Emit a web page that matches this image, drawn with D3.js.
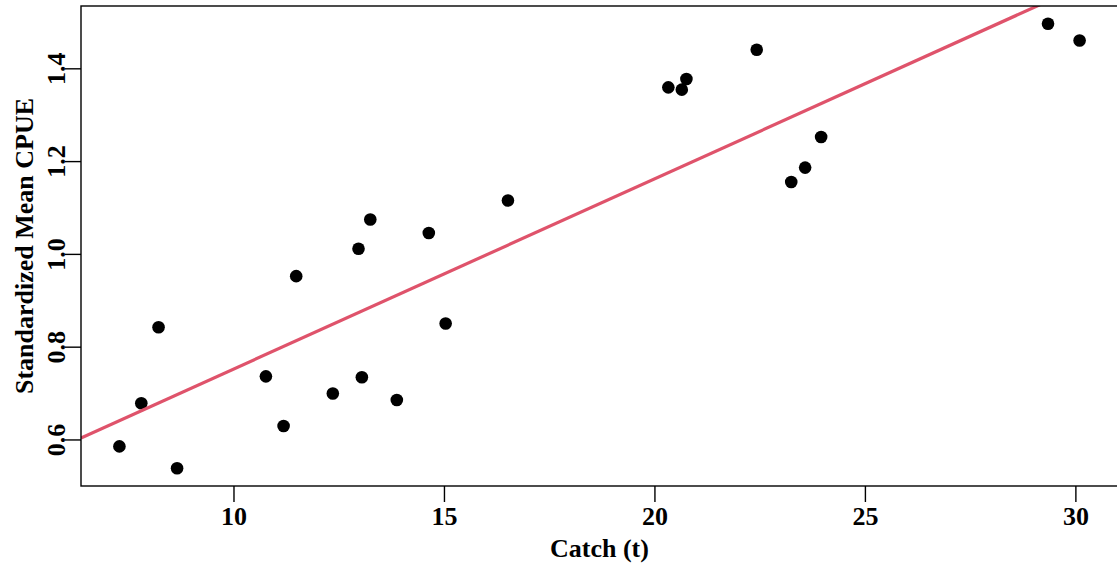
<!DOCTYPE html>
<html>
<head>
<meta charset="utf-8">
<script src="https://cdn.jsdelivr.net/npm/d3@7"></script>
<style>
  html, body { margin: 0; padding: 0; background: #fff; }
  svg { display: block; }
  text { font-family: "Liberation Serif", "Times New Roman", serif; font-weight: bold; fill: #000; }
</style>
</head>
<body>
<svg id="chart" width="1117" height="568"></svg>
<script>
// ---- data ----
const catchT = [7.29, 7.81, 8.22, 8.66, 10.77, 11.19, 11.49, 12.36, 12.97, 13.05, 13.25, 13.88,
                14.64, 15.04, 16.52, 20.33, 20.65, 20.76, 22.43, 23.25, 23.58, 23.96, 29.35, 30.10];
const cpue   = [0.585, 0.678, 0.842, 0.538, 0.736, 0.629, 0.952, 0.699, 1.011, 0.734, 1.074, 0.685,
                1.045, 0.850, 1.115, 1.359, 1.354, 1.377, 1.440, 1.155, 1.186, 1.252, 1.496, 1.460];
const xTicks = [10, 15, 20, 25, 30];
const yTicks = [0.6, 0.8, 1.0, 1.2, 1.4];
const xLabel = "Catch (t)";
const yLabel = "Standardized Mean CPUE";

// ---- layout ----
const W = 1117, H = 568;
const plot = { left: 81, right: 1118, top: 6, bottom: 486 };

const svg = d3.select("#chart");

function padded(ext) { const r = ext[1] - ext[0]; return [ext[0] - 0.04 * r, ext[1] + 0.04 * r]; }
const x = d3.scaleLinear().domain(padded(d3.extent(catchT))).range([plot.left, plot.right]);
const y = d3.scaleLinear().domain(padded(d3.extent(cpue))).range([plot.bottom, plot.top]);

// least-squares fit computed from the data
const mx = d3.mean(catchT), my = d3.mean(cpue);
let sxy = 0, sxx = 0;
catchT.forEach((v, i) => { sxy += (v - mx) * (cpue[i] - my); sxx += (v - mx) ** 2; });
const slope = sxy / sxx, intercept = my - slope * mx;

svg.append("defs").append("clipPath").attr("id", "clip")
  .append("rect").attr("x", plot.left).attr("y", plot.top)
  .attr("width", plot.right - plot.left).attr("height", plot.bottom - plot.top);

// points
svg.append("g").selectAll("circle").data(catchT).join("circle")
  .attr("cx", d => x(d)).attr("cy", (d, i) => y(cpue[i])).attr("r", 6.3).attr("fill", "#000");

// regression line
const xd = x.domain();
svg.append("line").attr("clip-path", "url(#clip)")
  .attr("x1", x(xd[0])).attr("y1", y(intercept + slope * xd[0]))
  .attr("x2", x(xd[1])).attr("y2", y(intercept + slope * xd[1]))
  .attr("stroke", "#DF536B").attr("stroke-width", 3.2);

// box
svg.append("rect").attr("x", plot.left).attr("y", plot.top)
  .attr("width", plot.right - plot.left).attr("height", plot.bottom - plot.top)
  .attr("fill", "none").attr("stroke", "#000").attr("stroke-width", 1.4);

// x axis
const xAxis = d3.axisBottom(x).tickValues(xTicks).tickSize(16).tickPadding(4).tickFormat(d3.format("d"));
const gx = svg.append("g").attr("transform", `translate(0,${plot.bottom})`).call(xAxis);
gx.select(".domain").remove();
gx.selectAll(".tick line").attr("stroke", "#000").attr("stroke-width", 1.4);
gx.selectAll(".tick text").attr("font-size", 26).attr("font-family", null).attr("dy", "0.72em");

// y axis
const yAxis = d3.axisLeft(y).tickValues(yTicks).tickSize(16).tickPadding(0).tickFormat(d3.format(".1f"));
const gy = svg.append("g").attr("transform", `translate(${plot.left},0)`).call(yAxis);
gy.select(".domain").remove();
gy.selectAll(".tick line").attr("stroke", "#000").attr("stroke-width", 1.4);
gy.selectAll(".tick text").attr("font-size", 26).attr("font-family", null)
  .attr("x", null).attr("dy", null)
  .attr("text-anchor", "middle")
  .attr("transform", "translate(-16,0) rotate(-90)");

// axis titles
svg.append("text").attr("x", (plot.left + plot.right) / 2).attr("y", 557)
  .attr("text-anchor", "middle").attr("font-size", 26).text(xLabel);
svg.append("text").attr("transform", `translate(33,${(plot.top + plot.bottom) / 2}) rotate(-90)`)
  .attr("text-anchor", "middle").attr("font-size", 26).text(yLabel);
</script>
</body>
</html>
